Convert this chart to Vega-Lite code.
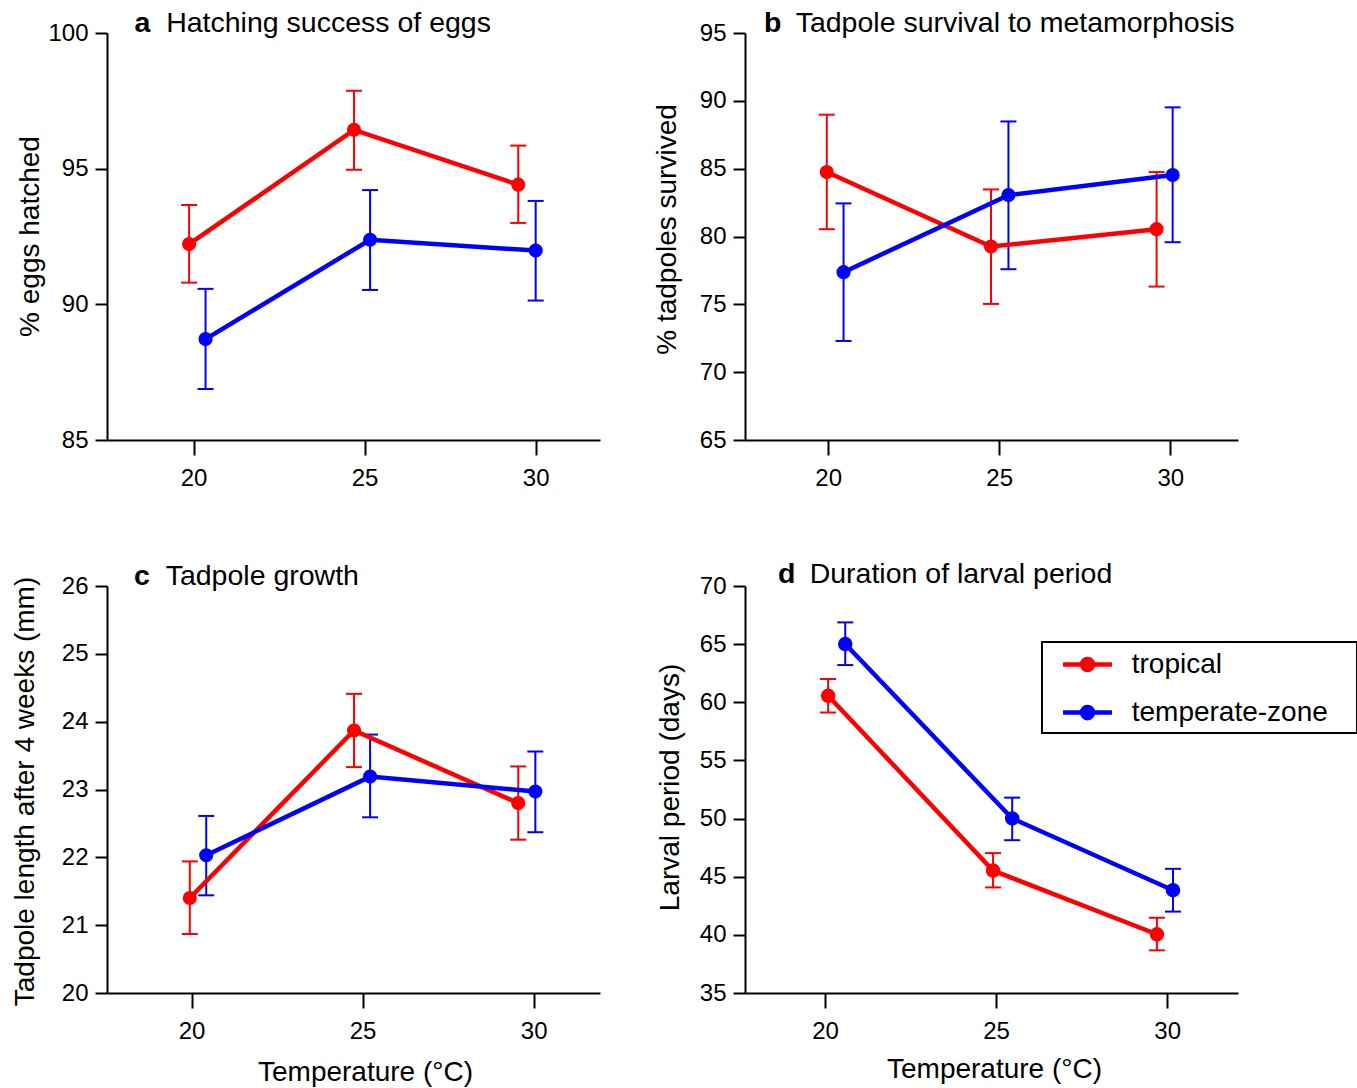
{
  "$schema": "https://vega.github.io/schema/vega-lite/v6.json",
  "background": "white",
  "padding": {"left": 10, "top": 9, "right": 0, "bottom": 2},
  "bounds": "flush",
  "columns": 2,
  "spacing": {"row": 146, "column": 145},
  "data": {
    "values": [
      {"panel": "a", "series": "tropical", "temp": 19.87, "value": 92.22, "lower": 90.80, "upper": 93.66},
      {"panel": "a", "series": "tropical", "temp": 24.69, "value": 96.43, "lower": 94.96, "upper": 97.87},
      {"panel": "a", "series": "tropical", "temp": 29.49, "value": 94.41, "lower": 93.00, "upper": 95.85},
      {"panel": "a", "series": "temperate-zone", "temp": 20.35, "value": 88.72, "lower": 86.88, "upper": 90.57},
      {"panel": "a", "series": "temperate-zone", "temp": 25.16, "value": 92.38, "lower": 90.53, "upper": 94.21},
      {"panel": "a", "series": "temperate-zone", "temp": 30.00, "value": 91.98, "lower": 90.14, "upper": 93.81},
      {"panel": "b", "series": "tropical", "temp": 19.96, "value": 84.75, "lower": 80.54, "upper": 88.98},
      {"panel": "b", "series": "tropical", "temp": 24.76, "value": 79.26, "lower": 75.03, "upper": 83.47},
      {"panel": "b", "series": "tropical", "temp": 29.60, "value": 80.54, "lower": 76.31, "upper": 84.75},
      {"panel": "b", "series": "temperate-zone", "temp": 20.45, "value": 77.37, "lower": 72.30, "upper": 82.44},
      {"panel": "b", "series": "temperate-zone", "temp": 25.27, "value": 83.05, "lower": 77.59, "upper": 88.48},
      {"panel": "b", "series": "temperate-zone", "temp": 30.07, "value": 84.53, "lower": 79.58, "upper": 89.52},
      {"panel": "c", "series": "tropical", "temp": 19.95, "value": 21.40, "lower": 20.87, "upper": 21.94},
      {"panel": "c", "series": "tropical", "temp": 24.75, "value": 23.87, "lower": 23.33, "upper": 24.41},
      {"panel": "c", "series": "tropical", "temp": 29.55, "value": 22.80, "lower": 22.26, "upper": 23.34},
      {"panel": "c", "series": "temperate-zone", "temp": 20.43, "value": 22.03, "lower": 21.44, "upper": 22.61},
      {"panel": "c", "series": "temperate-zone", "temp": 25.22, "value": 23.19, "lower": 22.59, "upper": 23.81},
      {"panel": "c", "series": "temperate-zone", "temp": 30.05, "value": 22.97, "lower": 22.37, "upper": 23.56},
      {"panel": "d", "series": "tropical", "temp": 20.09, "value": 60.56, "lower": 59.12, "upper": 62.00},
      {"panel": "d", "series": "tropical", "temp": 24.91, "value": 45.53, "lower": 44.08, "upper": 47.03},
      {"panel": "d", "series": "tropical", "temp": 29.70, "value": 40.05, "lower": 38.67, "upper": 41.47},
      {"panel": "d", "series": "temperate-zone", "temp": 20.59, "value": 65.01, "lower": 63.20, "upper": 66.87},
      {"panel": "d", "series": "temperate-zone", "temp": 25.47, "value": 50.01, "lower": 48.14, "upper": 51.80},
      {"panel": "d", "series": "temperate-zone", "temp": 30.17, "value": 43.84, "lower": 42.00, "upper": 45.68}
    ]
  },
  "concat": [
    {
      "width": 493, "height": 407,
      "transform": [{"filter": "datum.panel === 'a'"}],
      "title": {"text": "a", "subtitle": "\u200b\u00a0\u00a0\u00a0\u00a0Hatching success of eggs", "dx": 27.5, "offset": -16.5},
      "encoding": {
        "x": {"field": "temp", "type": "quantitative", "scale": {"domain": [17.47, 31.88], "nice": false, "zero": false}, "axis": {"values": [20, 25, 30], "title": null}},
        "color": {"field": "series", "type": "nominal", "scale": {"domain": ["tropical", "temperate-zone"], "range": ["#ff0000", "#0000ff"]}, "legend": null}
      },
      "layer": [
        {"mark": {"type": "rule", "strokeWidth": 2},
         "encoding": {"y": {"field": "lower", "type": "quantitative", "scale": {"domain": [85, 100], "nice": false, "zero": false}, "axis": {"values": [85, 90, 95, 100], "title": "% eggs hatched", "titleX": -77, "titleY": 203, "titleBaseline": "middle"}}, "y2": {"field": "upper"}}},
        {"mark": {"type": "tick", "orient": "horizontal", "size": 16, "thickness": 2, "opacity": 1},
         "encoding": {"y": {"field": "lower", "type": "quantitative", "scale": {"domain": [85, 100], "nice": false, "zero": false}, "axis": {"values": [85, 90, 95, 100], "title": "% eggs hatched", "titleX": -77, "titleY": 203, "titleBaseline": "middle"}}}},
        {"mark": {"type": "tick", "orient": "horizontal", "size": 16, "thickness": 2, "opacity": 1},
         "encoding": {"y": {"field": "upper", "type": "quantitative", "scale": {"domain": [85, 100], "nice": false, "zero": false}, "axis": {"values": [85, 90, 95, 100], "title": "% eggs hatched", "titleX": -77, "titleY": 203, "titleBaseline": "middle"}}}},
        {"mark": {"type": "line", "strokeWidth": 4.5},
         "encoding": {"y": {"field": "value", "type": "quantitative", "scale": {"domain": [85, 100], "nice": false, "zero": false}, "axis": {"values": [85, 90, 95, 100], "title": "% eggs hatched", "titleX": -77, "titleY": 203, "titleBaseline": "middle"}}}},
        {"mark": {"type": "point", "filled": true, "size": 200, "strokeWidth": 0, "opacity": 1},
         "encoding": {"y": {"field": "value", "type": "quantitative", "scale": {"domain": [85, 100], "nice": false, "zero": false}, "axis": {"values": [85, 90, 95, 100], "title": "% eggs hatched", "titleX": -77, "titleY": 203, "titleBaseline": "middle"}}}}
      ]
    },
    {
      "width": 493, "height": 407,
      "transform": [{"filter": "datum.panel === 'b'"}],
      "title": {"text": "b", "subtitle": "\u200b\u00a0\u00a0\u00a0\u00a0Tadpole survival to metamorphosis", "dx": 19, "offset": -16.5},
      "encoding": {
        "x": {"field": "temp", "type": "quantitative", "scale": {"domain": [17.57, 31.98], "nice": false, "zero": false}, "axis": {"values": [20, 25, 30], "title": null}},
        "color": {"field": "series", "type": "nominal", "scale": {"domain": ["tropical", "temperate-zone"], "range": ["#ff0000", "#0000ff"]}, "legend": null}
      },
      "layer": [
        {"mark": {"type": "rule", "strokeWidth": 2},
         "encoding": {"y": {"field": "lower", "type": "quantitative", "scale": {"domain": [65, 95], "nice": false, "zero": false}, "axis": {"values": [65, 70, 75, 80, 85, 90, 95], "title": "% tadpoles survived", "titleX": -78, "titleY": 196, "titleBaseline": "middle"}}, "y2": {"field": "upper"}}},
        {"mark": {"type": "tick", "orient": "horizontal", "size": 16, "thickness": 2, "opacity": 1},
         "encoding": {"y": {"field": "lower", "type": "quantitative", "scale": {"domain": [65, 95], "nice": false, "zero": false}, "axis": {"values": [65, 70, 75, 80, 85, 90, 95], "title": "% tadpoles survived", "titleX": -78, "titleY": 196, "titleBaseline": "middle"}}}},
        {"mark": {"type": "tick", "orient": "horizontal", "size": 16, "thickness": 2, "opacity": 1},
         "encoding": {"y": {"field": "upper", "type": "quantitative", "scale": {"domain": [65, 95], "nice": false, "zero": false}, "axis": {"values": [65, 70, 75, 80, 85, 90, 95], "title": "% tadpoles survived", "titleX": -78, "titleY": 196, "titleBaseline": "middle"}}}},
        {"mark": {"type": "line", "strokeWidth": 4.5},
         "encoding": {"y": {"field": "value", "type": "quantitative", "scale": {"domain": [65, 95], "nice": false, "zero": false}, "axis": {"values": [65, 70, 75, 80, 85, 90, 95], "title": "% tadpoles survived", "titleX": -78, "titleY": 196, "titleBaseline": "middle"}}}},
        {"mark": {"type": "point", "filled": true, "size": 200, "strokeWidth": 0, "opacity": 1},
         "encoding": {"y": {"field": "value", "type": "quantitative", "scale": {"domain": [65, 95], "nice": false, "zero": false}, "axis": {"values": [65, 70, 75, 80, 85, 90, 95], "title": "% tadpoles survived", "titleX": -78, "titleY": 196, "titleBaseline": "middle"}}}}
      ]
    },
    {
      "width": 493, "height": 407,
      "transform": [{"filter": "datum.panel === 'c'"}],
      "title": {"text": "c", "subtitle": "\u200b\u00a0\u00a0\u00a0\u00a0Tadpole growth", "dx": 27, "offset": -16.5},
      "encoding": {
        "x": {"field": "temp", "type": "quantitative", "scale": {"domain": [17.53, 31.94], "nice": false, "zero": false}, "axis": {"values": [20, 25, 30], "title": "Temperature (°C)", "titleX": 258, "titleY": 87, "titleBaseline": "alphabetic"}},
        "color": {"field": "series", "type": "nominal", "scale": {"domain": ["tropical", "temperate-zone"], "range": ["#ff0000", "#0000ff"]}, "legend": null}
      },
      "layer": [
        {"mark": {"type": "rule", "strokeWidth": 2},
         "encoding": {"y": {"field": "lower", "type": "quantitative", "scale": {"domain": [20, 26], "nice": false, "zero": false}, "axis": {"values": [20, 21, 22, 23, 24, 25, 26], "title": "Tadpole length after 4 weeks (mm)", "titleX": -82, "titleY": 205, "titleBaseline": "middle"}}, "y2": {"field": "upper"}}},
        {"mark": {"type": "tick", "orient": "horizontal", "size": 16, "thickness": 2, "opacity": 1},
         "encoding": {"y": {"field": "lower", "type": "quantitative", "scale": {"domain": [20, 26], "nice": false, "zero": false}, "axis": {"values": [20, 21, 22, 23, 24, 25, 26], "title": "Tadpole length after 4 weeks (mm)", "titleX": -82, "titleY": 205, "titleBaseline": "middle"}}}},
        {"mark": {"type": "tick", "orient": "horizontal", "size": 16, "thickness": 2, "opacity": 1},
         "encoding": {"y": {"field": "upper", "type": "quantitative", "scale": {"domain": [20, 26], "nice": false, "zero": false}, "axis": {"values": [20, 21, 22, 23, 24, 25, 26], "title": "Tadpole length after 4 weeks (mm)", "titleX": -82, "titleY": 205, "titleBaseline": "middle"}}}},
        {"mark": {"type": "line", "strokeWidth": 4.5},
         "encoding": {"y": {"field": "value", "type": "quantitative", "scale": {"domain": [20, 26], "nice": false, "zero": false}, "axis": {"values": [20, 21, 22, 23, 24, 25, 26], "title": "Tadpole length after 4 weeks (mm)", "titleX": -82, "titleY": 205, "titleBaseline": "middle"}}}},
        {"mark": {"type": "point", "filled": true, "size": 200, "strokeWidth": 0, "opacity": 1},
         "encoding": {"y": {"field": "value", "type": "quantitative", "scale": {"domain": [20, 26], "nice": false, "zero": false}, "axis": {"values": [20, 21, 22, 23, 24, 25, 26], "title": "Tadpole length after 4 weeks (mm)", "titleX": -82, "titleY": 205, "titleBaseline": "middle"}}}}
      ]
    },
    {
      "width": 493, "height": 407,
      "transform": [{"filter": "datum.panel === 'd'"}],
      "title": {"text": "d", "subtitle": "\u200b\u00a0\u00a0\u00a0\u00a0Duration of larval period", "dx": 33, "offset": -14},
      "encoding": {
        "x": {"field": "temp", "type": "quantitative", "scale": {"domain": [17.66, 32.07], "nice": false, "zero": false}, "axis": {"values": [20, 25, 30], "title": "Temperature (°C)", "titleX": 249, "titleY": 84, "titleBaseline": "alphabetic"}}
      },
      "layer": [
        {"mark": {"type": "rule", "strokeWidth": 2},
         "encoding": {"y": {"field": "lower", "type": "quantitative", "scale": {"domain": [35, 70], "nice": false, "zero": false}, "axis": {"values": [35, 40, 45, 50, 55, 60, 65, 70], "title": "Larval period (days)", "titleX": -75, "titleY": 201, "titleBaseline": "middle"}}, "y2": {"field": "upper"},
           "color": {"field": "series", "type": "nominal", "scale": {"domain": ["temperate-zone", "tropical"], "range": ["#0000ff", "#ff0000"]}, "legend": null}}},
        {"mark": {"type": "tick", "orient": "horizontal", "size": 16, "thickness": 2, "opacity": 1},
         "encoding": {"y": {"field": "lower", "type": "quantitative", "scale": {"domain": [35, 70], "nice": false, "zero": false}, "axis": {"values": [35, 40, 45, 50, 55, 60, 65, 70], "title": "Larval period (days)", "titleX": -75, "titleY": 201, "titleBaseline": "middle"}},
           "color": {"field": "series", "type": "nominal", "scale": {"domain": ["temperate-zone", "tropical"], "range": ["#0000ff", "#ff0000"]}, "legend": null}}},
        {"mark": {"type": "tick", "orient": "horizontal", "size": 16, "thickness": 2, "opacity": 1},
         "encoding": {"y": {"field": "upper", "type": "quantitative", "scale": {"domain": [35, 70], "nice": false, "zero": false}, "axis": {"values": [35, 40, 45, 50, 55, 60, 65, 70], "title": "Larval period (days)", "titleX": -75, "titleY": 201, "titleBaseline": "middle"}},
           "color": {"field": "series", "type": "nominal", "scale": {"domain": ["temperate-zone", "tropical"], "range": ["#0000ff", "#ff0000"]}, "legend": null}}},
        {"mark": {"type": "line", "strokeWidth": 4.5},
         "encoding": {"y": {"field": "value", "type": "quantitative", "scale": {"domain": [35, 70], "nice": false, "zero": false}, "axis": {"values": [35, 40, 45, 50, 55, 60, 65, 70], "title": "Larval period (days)", "titleX": -75, "titleY": 201, "titleBaseline": "middle"}},
           "color": {"field": "series", "type": "nominal", "scale": {"domain": ["temperate-zone", "tropical"], "range": ["#0000ff", "#ff0000"]}, "legend": null}}},
        {"mark": {"type": "point", "filled": true, "size": 100, "strokeWidth": 4.5, "opacity": 1},
         "encoding": {"y": {"field": "value", "type": "quantitative", "scale": {"domain": [35, 70], "nice": false, "zero": false}, "axis": {"values": [35, 40, 45, 50, 55, 60, 65, 70], "title": "Larval period (days)", "titleX": -75, "titleY": 201, "titleBaseline": "middle"}},
           "fill": {"field": "series", "type": "nominal", "scale": {"domain": ["tropical", "temperate-zone"], "range": ["#ff0000", "#0000ff"]},
             "legend": {"orient": "none", "legendX": 297, "legendY": 56, "title": null, "symbolType": "M-1.63,0L1.63,0M-0.37,0A0.37,0.37,0,1,1,0.37,0A0.37,0.37,0,1,1,-0.37,0Z", "symbolSize": 900, "symbolStrokeWidth": 4.5, "symbolOffset": 23, "labelOffset": 26.7, "labelLimit": 400, "labelExpr": "datum.label + '\u00a0\u00a0\u00a0\u200b'", "labelFont": "Liberation Sans", "labelFontSize": 28, "labelColor": "black", "padding": 5, "rowPadding": 15.1, "strokeColor": "black", "fillColor": "white"}},
           "stroke": {"field": "series", "type": "nominal", "scale": {"domain": ["tropical", "temperate-zone"], "range": ["#ff0000", "#0000ff"]},
             "legend": {"orient": "none", "legendX": 297, "legendY": 56, "title": null, "symbolType": "M-1.63,0L1.63,0M-0.37,0A0.37,0.37,0,1,1,0.37,0A0.37,0.37,0,1,1,-0.37,0Z", "symbolSize": 900, "symbolStrokeWidth": 4.5, "symbolOffset": 23, "labelOffset": 26.7, "labelLimit": 400, "labelExpr": "datum.label + '\u00a0\u00a0\u00a0\u200b'", "labelFont": "Liberation Sans", "labelFontSize": 28, "labelColor": "black", "padding": 5, "rowPadding": 15.1, "strokeColor": "black", "fillColor": "white"}}}}
      ]
    }
  ],
  "resolve": {
    "scale": {"x": "independent", "y": "independent", "color": "independent", "fill": "independent", "stroke": "independent"},
    "legend": {"color": "independent", "fill": "independent", "stroke": "independent"}
  },
  "config": {
    "view": {"stroke": null},
    "title": {"font": "Liberation Sans", "fontSize": 28.5, "fontWeight": "bold", "color": "black", "anchor": "start", "frame": "group", "orient": "top",
      "subtitleFont": "Liberation Sans", "subtitleFontSize": 28.5, "subtitleFontWeight": "normal", "subtitleColor": "black", "subtitlePadding": -28.5},
    "legend": {"strokeWidth": 2},
    "axis": {"domainColor": "black", "domainWidth": 2, "tickColor": "black", "tickWidth": 2, "grid": false,
      "labelFont": "Liberation Sans", "labelFontSize": 24, "labelColor": "black", "labelFlush": false, "labelOverlap": false,
      "titleFont": "Liberation Sans", "titleFontSize": 28, "titleFontWeight": "normal", "titleColor": "black"},
    "axisX": {"tickSize": 15, "labelPadding": 11},
    "axisY": {"tickSize": 12, "labelPadding": 7}
  }
}
